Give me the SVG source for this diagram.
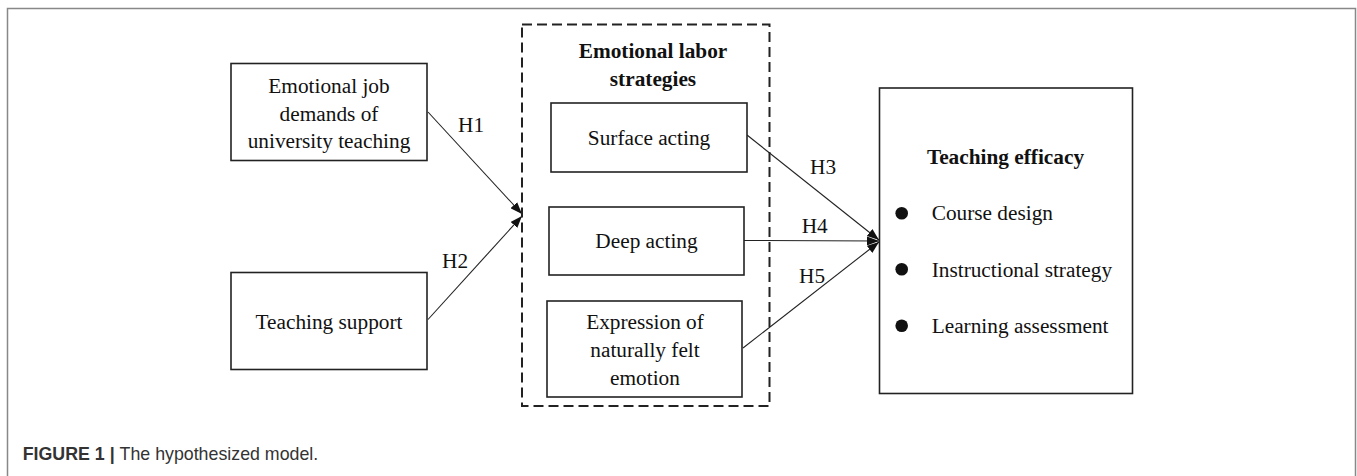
<svg xmlns="http://www.w3.org/2000/svg" width="1357" height="476" viewBox="0 0 1357 476">
<style>
.box{fill:#fff;stroke:#222;stroke-width:1.6}
.dash{fill:none;stroke:#222;stroke-width:2;stroke-dasharray:10 5}
.t{font-family:"Liberation Serif","Times New Roman",serif;font-size:21.3px;fill:#111}
.c{text-anchor:middle}
.b{font-weight:bold}
.edge{stroke:#222;stroke-width:1.1;fill:none;marker-end:url(#ah)}
.cap{font-family:"Liberation Sans",Arial,sans-serif;font-size:17.8px;fill:#333}
</style>
<defs>
<marker id="ah" markerUnits="userSpaceOnUse" markerWidth="12" markerHeight="9" refX="12" refY="4.5" orient="auto">
<path d="M0,0 L12,4.5 L0,9 Z" fill="#111"/>
</marker>
</defs>
<rect width="1357" height="476" fill="#fff"/>
<path d="M7.5,480 V8.5 H1355.5 V480" fill="none" stroke="#888" stroke-width="1.5"/>

<g id="connectors">
<line class="edge" x1="428" y1="112" x2="522" y2="214"/>
<line class="edge" x1="428" y1="319.5" x2="522" y2="216"/>
<line class="edge" x1="747" y1="135" x2="879" y2="240"/>
<line class="edge" x1="744" y1="240.5" x2="879" y2="241"/>
<line class="edge" x1="743" y1="348" x2="879" y2="242"/>
<text class="t" x="458" y="132.3">H1</text>
<text class="t" x="442" y="267.7">H2</text>
<text class="t" x="810" y="174">H3</text>
<text class="t" x="801.7" y="233.3">H4</text>
<text class="t" x="799" y="282.7">H5</text>
</g>

<g id="emotional-job-demands">
<rect class="box" x="231" y="63.5" width="196" height="97"/>
<text class="t c" x="329" y="93.3">Emotional job</text>
<text class="t c" x="329" y="121">demands of</text>
<text class="t c" x="329" y="148.3">university teaching</text>
</g>

<g id="teaching-support">
<rect class="box" x="231" y="272.5" width="196" height="97"/>
<text class="t c" x="329" y="329.3">Teaching support</text>
</g>

<g id="emotional-labor-strategies">
<rect class="dash" x="522" y="24.5" width="247.5" height="381.5"/>
<text class="t c b" x="653" y="58.3">Emotional labor</text>
<text class="t c b" x="653" y="86">strategies</text>
</g>

<g id="surface-acting">
<rect class="box" x="551" y="103" width="196" height="69"/>
<text class="t c" x="649" y="145">Surface acting</text>
</g>

<g id="deep-acting">
<rect class="box" x="549" y="207" width="195" height="68"/>
<text class="t c" x="646.5" y="248.3">Deep acting</text>
</g>

<g id="expression">
<rect class="box" x="547" y="301" width="195" height="96"/>
<text class="t c" x="645" y="329.3">Expression of</text>
<text class="t c" x="645" y="357.3">naturally felt</text>
<text class="t c" x="645" y="385">emotion</text>
</g>

<g id="teaching-efficacy">
<rect class="box" x="879.5" y="88" width="253" height="305.5"/>
<text class="t c b" x="1005.5" y="164.3">Teaching efficacy</text>
<circle cx="901.7" cy="213.3" r="6.3" fill="#111"/>
<circle cx="901.7" cy="269.3" r="6.3" fill="#111"/>
<circle cx="901.7" cy="325.7" r="6.3" fill="#111"/>
<text class="t" x="931.7" y="220">Course design</text>
<text class="t" x="931.7" y="276.7">Instructional strategy</text>
<text class="t" x="931.7" y="332.7">Learning assessment</text>
</g>

<text class="cap" x="22.7" y="460"><tspan font-weight="bold">FIGURE 1 | </tspan>The hypothesized model.</text>
</svg>
